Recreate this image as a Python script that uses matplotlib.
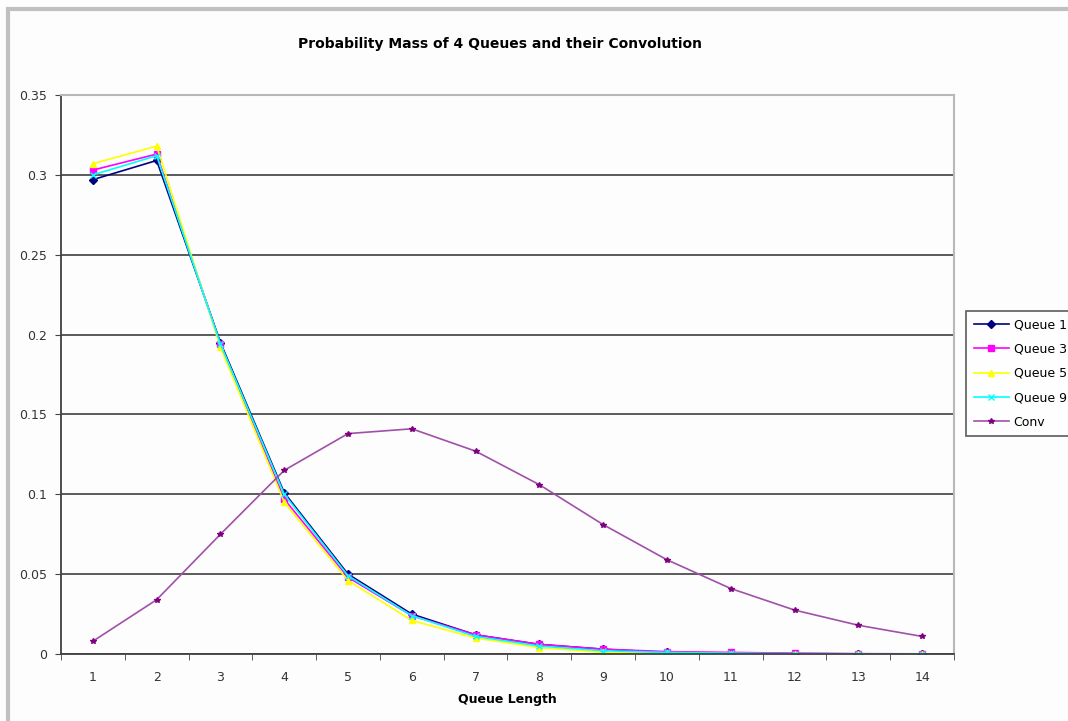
import matplotlib.pyplot as plt
from matplotlib.patches import Rectangle

# data
queue_len = [1, 2, 3, 4, 5, 6, 7, 8, 9, 10, 11, 12, 13, 14]
queue1 = [0.297, 0.309, 0.195, 0.101, 0.050, 0.025, 0.012, 0.006, 0.003, 0.001, 0.0005, 0.0002, 0.0001, 0.0]
queue3 = [0.303, 0.313, 0.194, 0.097, 0.048, 0.024, 0.012, 0.006, 0.003, 0.0015, 0.001, 0.0005, 0.0002, 0.0001]
queue5 = [0.307, 0.318, 0.192, 0.095, 0.046, 0.021, 0.010, 0.004, 0.001, 0.0005, 0.0002, 0.0001, 0.0, 0.0]
queue9 = [0.300, 0.312, 0.194, 0.100, 0.049, 0.024, 0.011, 0.005, 0.002, 0.001, 0.0005, 0.0002, 0.0001, 0.0]
conv = [0.008, 0.034, 0.075, 0.115, 0.138, 0.141, 0.127, 0.106, 0.081, 0.059, 0.041, 0.0275, 0.018, 0.011]
y_ticks = [0, 0.05, 0.1, 0.15, 0.2, 0.25, 0.3, 0.35]

plt.rcParams['font.family'] = ['DejaVu Sans']

fig = plt.figure(figsize=(10.68, 7.21), dpi=100)
fig.patch.set_facecolor('#fdfdfd')
# grey frame round the chart (right/bottom edges run off the picture)
fig.add_artist(Rectangle((8 / 1068, -0.05), 1.2, 1 - 9.5 / 721 + 0.05,
                         transform=fig.transFigure, fill=False,
                         edgecolor='#c0c0c0', lw=3))

ax = fig.add_axes([61 / 1068, 1 - 654 / 721, (954 - 61) / 1068, (654 - 95) / 721])
ax.set_facecolor('#fdfdfd')

ax.plot(queue_len, queue1, color='#000080', marker='D', ms=4, lw=1.2, label='Queue 1')
ax.plot(queue_len, queue3, color='#ff00ff', marker='s', ms=4, lw=1.2, label='Queue 3')
ax.plot(queue_len, queue5, color='#ffff00', marker='^', ms=5, lw=1.2, label='Queue 5')
ax.plot(queue_len, queue9, color='#00ffff', marker='x', ms=4, mew=1, lw=1.2, label='Queue 9')
ax.plot(queue_len, conv, color='#a050a8', marker='*', ms=4, mfc='#800080', mec='#800080',
        lw=1.2, label='Conv')

ax.set_xlim(0.5, 14.5)
ax.set_ylim(0, 0.35)
ax.set_yticks(y_ticks)
ax.set_yticklabels(['0', '0.05', '0.1', '0.15', '0.2', '0.25', '0.3', '0.35'])
ax.set_xticks(queue_len)
ax.set_xticklabels([str(q) for q in queue_len])
ax.set_xticks([q + 0.5 for q in range(0, 15)], minor=True)
ax.tick_params(axis='x', which='major', length=0, pad=12, labelsize=9, colors='#333333')
ax.tick_params(axis='x', which='minor', length=4, color='#444444', direction='out')
ax.tick_params(axis='y', length=4, color='#444444', labelsize=9, labelcolor='#333333', pad=6)
ax.yaxis.grid(True, color='#5a5a5a', lw=1.4)
ax.set_axisbelow(True)

for s in ['top', 'right']:
    ax.spines[s].set_color('#b8b8b8')
    ax.spines[s].set_linewidth(1.5)
for s in ['left', 'bottom']:
    ax.spines[s].set_color('#404040')
    ax.spines[s].set_linewidth(1.3)

ax.set_xlabel('Queue Length', fontsize=9, fontweight='bold', labelpad=7)
fig.text(0.468, 1 - 44 / 721, 'Probability Mass of 4 Queues and their Convolution',
         ha='center', va='center', fontsize=10, fontweight='bold')

leg = ax.legend(loc='upper left', bbox_to_anchor=(966 / 1068, 1 - 311 / 721),
                bbox_transform=fig.transFigure, fontsize=9, frameon=True, fancybox=False,
                edgecolor='#333333', handlelength=2.8, handletextpad=0.4,
                labelspacing=0.9, borderpad=0.6, borderaxespad=0)
leg.get_frame().set_linewidth(1.2)

fig.savefig('out.png', dpi=100, facecolor=fig.get_facecolor())
